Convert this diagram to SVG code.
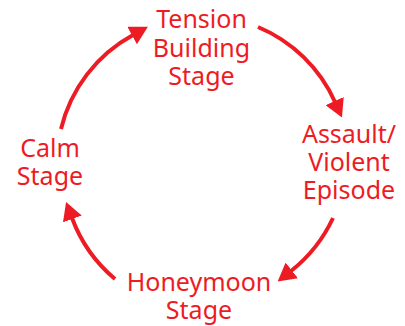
<svg xmlns="http://www.w3.org/2000/svg" width="405" height="326" viewBox="0 0 405 326">
<style>
text{font-family:"Noto Sans","Liberation Sans",sans-serif;font-size:25px;fill:#ED1C24;text-anchor:middle}
.arc{fill:none;stroke:#ED1C24;stroke-width:4}
</style>
<defs>
<marker id="ah" markerUnits="userSpaceOnUse" viewBox="0 0 18 20" refX="1" refY="10" markerWidth="18" markerHeight="20" orient="auto">
<path d="M0,0 L18,10 L0,20 z" fill="#ED1C24"/>
</marker>
</defs>
<rect width="405" height="326" fill="#fff"/>
<g id="connectors">
<path class="arc" marker-end="url(#ah)" d="M61,129 A146,146 0 0 1 133,35"/>
<path class="arc" marker-end="url(#ah)" d="M258,27 A146,146 0 0 1 335,102"/>
<path class="arc" marker-end="url(#ah)" d="M333,218 A146,146 0 0 1 291,271"/>
<path class="arc" marker-end="url(#ah)" d="M115,279 A146,146 0 0 1 72,218"/>
</g>
<g id="tension"><text x="201.5" y="28">Tension</text><text x="201.5" y="57">Building</text><text x="201.5" y="85">Stage</text></g>
<g id="assault"><text x="349" y="143">Assault/</text><text x="349" y="171">Violent</text><text x="349" y="199">Episode</text></g>
<g id="honeymoon"><text x="199" y="291">Honeymoon</text><text x="199" y="319">Stage</text></g>
<g id="calm"><text x="50" y="157">Calm</text><text x="50" y="185">Stage</text></g>
</svg>
